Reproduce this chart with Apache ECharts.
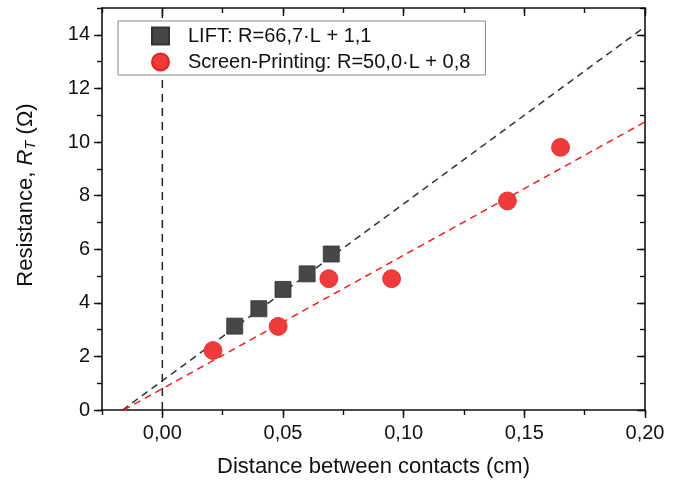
<!DOCTYPE html>
<html>
<head>
<meta charset="utf-8">
<script src="https://cdn.jsdelivr.net/npm/echarts@6/dist/echarts.min.js"></script>
<style>
  html, body { margin: 0; padding: 0; background: #fff; }
  #main { width: 686px; height: 486px; }
</style>
</head>
<body>
<div id="main"></div>
<script>
// LIFT samples: distance (cm), resistance (ohm)
var liftX = [0.030, 0.040, 0.050, 0.060, 0.070];
var liftR = [3.13, 3.78, 4.50, 5.08, 5.82];
// screen printing samples
var spX = [0.021, 0.048, 0.069, 0.095, 0.143, 0.165];
var spR = [2.22, 3.12, 4.90, 4.90, 7.80, 9.80];
// fitted lines, end points
var liftFit = [[-0.0165, 0], [0.20, 14.3]];
var spFit = [[-0.016, 0], [0.20, 10.75]];
var zeroLine = [[0, 0], [0, 15]];
var xMajor = [0, 0.05, 0.10, 0.15, 0.20];
var yMajor = [0, 2, 4, 6, 8, 10, 12, 14];
var legendNames = ['LIFT: R=66,7·L + 1,1', 'Screen-Printing: R=50,0·L + 0,8'];

function pairs(xs, ys) {
    var out = [];
    for (var i = 0; i < xs.length; i++) {
        out.push([xs[i], ys[i]]);
    }
    return out;
}

var font = 'Liberation Sans, Arial, sans-serif';
var axisCol = '#111';

function tickDef(ticks, len, inside) {
    var t = {show: true, inside: inside, length: len, lineStyle: {color: axisCol, width: 1.4}};
    if (ticks !== null) t.customValues = ticks;
    return t;
}

function xAxisDef(pos, ticks, len, inside, showLine, labels) {
    return {
        type: 'value', position: pos, min: -0.025, max: 0.2, interval: 0.025,
        axisLine: {show: showLine, onZero: false, lineStyle: {color: axisCol, width: 1.6}},
        axisTick: tickDef(ticks, len, inside),
        axisLabel: labels ? {
            show: true, customValues: xMajor, margin: 13, color: '#111', fontSize: 20, fontFamily: font,
            formatter: function (v) { return v.toFixed(2).replace('.', ','); }
        } : {show: false},
        splitLine: {show: false}
    };
}

function yAxisDef(pos, ticks, len, inside, showLine, labels) {
    return {
        type: 'value', position: pos, min: 0, max: 15, interval: 1,
        axisLine: {show: showLine, onZero: false, lineStyle: {color: axisCol, width: 1.6}},
        axisTick: tickDef(ticks, len, inside),
        axisLabel: labels ? {
            show: true, customValues: yMajor, margin: 12, color: '#111', fontSize: 20, fontFamily: font
        } : {show: false},
        splitLine: {show: false}
    };
}

var xs = [
    xAxisDef('bottom', xMajor, 8, false, true, true),
    xAxisDef('bottom', null, 5, false, false, false),
    xAxisDef('top', xMajor, 8, true, true, false),
    xAxisDef('top', null, 5, true, false, false)
];
xs[0].name = 'Distance between contacts (cm)';
xs[0].nameLocation = 'middle';
xs[0].nameGap = 46;
xs[0].nameTextStyle = {fontSize: 22, color: '#111', fontFamily: font};

var ys = [
    yAxisDef('left', yMajor, 8, false, true, true),
    yAxisDef('left', null, 5, false, false, false),
    yAxisDef('right', yMajor, 8, true, true, false),
    yAxisDef('right', null, 5, true, false, false)
];
ys[0].name = 'Resistance, {i|R}{s|T} (Ω)';
ys[0].nameLocation = 'middle';
ys[0].nameGap = 64;
ys[0].nameTextStyle = {
    fontSize: 22, color: '#111', fontFamily: font, padding: [0, 0, 0, 28],
    rich: {
        i: {fontSize: 22, fontStyle: 'italic', color: '#111', fontFamily: font},
        s: {fontSize: 15, fontStyle: 'italic', color: '#111', fontFamily: font, verticalAlign: 'bottom', padding: [9, 0, 0, 0]}
    }
};

var myChart = echarts.init(document.getElementById('main'));
var option = {
    animation: false,
    backgroundColor: '#fff',
    grid: {left: 102, right: 41, top: 8, bottom: 76},
    xAxis: xs,
    yAxis: ys,
    legend: {
        orient: 'vertical', left: 118, top: 21,
        data: legendNames,
        itemWidth: 17, itemHeight: 17, itemGap: 6,
        padding: [5, 15, 3, 33],
        backgroundColor: '#fff', borderColor: '#888', borderWidth: 1,
        textStyle: {fontSize: 20, color: '#111', fontFamily: font, padding: [0, 0, 0, 14]}
    },
    series: [{
        type: 'line', data: zeroLine, symbol: 'none', silent: true,
        lineStyle: {color: '#222', width: 1.5, type: [8, 6]}
    }, {
        type: 'line', data: liftFit, symbol: 'none', silent: true,
        lineStyle: {color: '#333', width: 1.5, type: [7, 5]}
    }, {
        type: 'line', data: spFit, symbol: 'none', silent: true,
        lineStyle: {color: '#f02020', width: 1.5, type: [7, 5]}
    }, {
        name: legendNames[0], type: 'scatter', symbol: 'rect', symbolSize: 16,
        data: pairs(liftX, liftR), z: 5,
        itemStyle: {color: '#474747', borderColor: '#333', borderWidth: 0.8, opacity: 1}
    }, {
        name: legendNames[1], type: 'scatter', symbol: 'circle', symbolSize: 18,
        data: pairs(spX, spR), z: 5,
        itemStyle: {color: '#ef3b3b', borderColor: '#e02424', borderWidth: 0.8, opacity: 1}
    }]
};
myChart.setOption(option);
</script>
</body>
</html>
